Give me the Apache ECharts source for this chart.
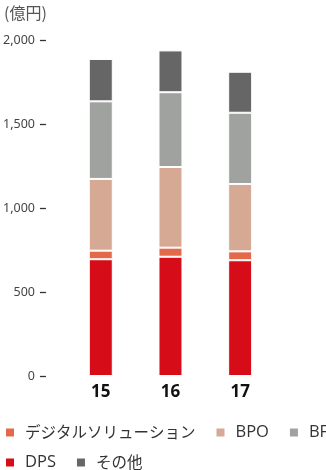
<!DOCTYPE html>
<html>
<head>
<meta charset="utf-8">
<script src="https://cdn.jsdelivr.net/npm/echarts@6/dist/echarts.min.js"></script>
<style>
  html, body { margin: 0; padding: 0; background: #fff; }
  #chart { width: 326px; height: 470px; }
</style>
</head>
<body>
<div id="chart"></div>
<script>
// Fiscal years on the category axis
var years = ['15', '16', '17'];

// Segment revenue (億円), stacked bottom to top
var dps = [695, 710, 689];
var digital = [51, 54, 53];
var bpo = [427, 480, 401];
var bf = [462, 445, 424];
var other = [252, 249, 244];

// Y axis ticks
var yTicks = [0, 500, 1000, 1500, 2000];

var colors = {
  dps: '#d60c19',
  digital: '#e2694a',
  bpo: '#d5a993',
  bf: '#a0a2a0',
  other: '#666666'
};

var names = {
  digital: 'デジタルソリューション',
  bpo: 'BPO',
  bf: 'BF',
  dps: 'DPS',
  other: 'その他'
};

function bar(name, data, color) {
  return {
    name: name,
    type: 'bar',
    stack: 'total',
    data: data,
    barWidth: 24,
    itemStyle: { color: color, borderColor: '#ffffff', borderWidth: 1 },
    emphasis: { disabled: true }
  };
}

// Latin names get a slightly larger size so they sit evenly with the kana
var legendText = {
  fontFamily: 'Noto Sans CJK JP',
  fontSize: 15.5,
  color: '#333333',
  padding: [0, 0, 0, 6],
  rich: {
    lat: { fontFamily: 'Open Sans', fontSize: 16.5, color: '#333333' }
  }
};
function legendFormatter(name) {
  return /^[A-Z]+$/.test(name) ? '{lat|' + name + '}' : name;
}

function legendRow(top, data) {
  return {
    left: 6,
    top: top,
    width: 800,
    padding: 0,
    icon: 'rect',
    itemWidth: 8,
    itemHeight: 8,
    itemGap: 21,
    itemStyle: { borderWidth: 0 },
    selectedMode: false,
    textStyle: legendText,
    formatter: legendFormatter,
    data: data
  };
}

var chart = echarts.init(document.getElementById('chart'), null, { renderer: 'canvas' });
chart.setOption({
  animation: false,
  textStyle: { fontFamily: 'Noto Sans CJK JP' },
  color: [colors.dps, colors.digital, colors.bpo, colors.bf, colors.other],
  graphic: [{
    type: 'text',
    left: 4,
    top: 5,
    style: { text: '(億円)', font: '16px "Noto Sans CJK JP"', fill: '#555555' }
  }],
  legend: [
    legendRow(424, [names.digital, names.bpo, names.bf]),
    legendRow(454, [names.dps, names.other])
  ],
  grid: { left: 65, width: 210, top: 40, bottom: 94, containLabel: false },
  xAxis: {
    type: 'category',
    data: years,
    axisLine: { show: false },
    axisTick: { show: false },
    axisLabel: {
      margin: 8,
      fontFamily: 'Open Sans',
      fontWeight: 'bold',
      fontSize: 17,
      color: '#111111'
    }
  },
  yAxis: {
    type: 'value',
    min: yTicks[0],
    max: yTicks[yTicks.length - 1],
    interval: 500,
    offset: 20,
    axisLine: { show: false },
    axisTick: { show: true, length: 6, lineStyle: { color: '#333333', width: 1.3 } },
    splitLine: { show: false },
    axisLabel: {
      margin: 11,
      fontFamily: 'Noto Sans',
      fontSize: 12.5,
      color: '#444444',
      formatter: function (v) { return v.toLocaleString('en-US'); }
    }
  },
  series: [
    bar(names.dps, dps, colors.dps),
    bar(names.digital, digital, colors.digital),
    bar(names.bpo, bpo, colors.bpo),
    bar(names.bf, bf, colors.bf),
    bar(names.other, other, colors.other)
  ]
});
</script>
</body>
</html>
